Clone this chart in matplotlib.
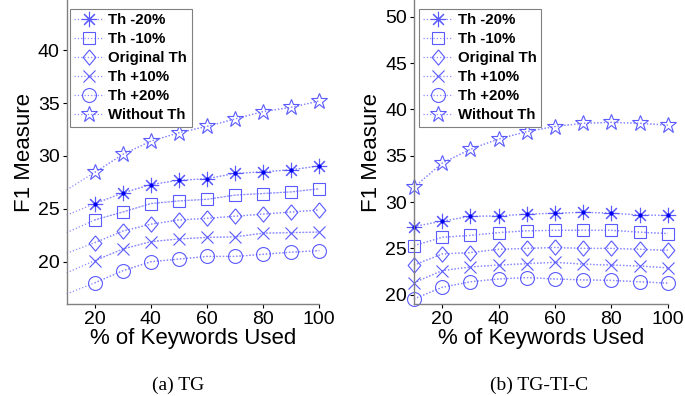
import matplotlib
matplotlib.use('Agg')
import matplotlib.pyplot as plt
import numpy as np

# % of keywords used
x_pct = [10, 20, 30, 40, 50, 60, 70, 80, 90, 100]
labels = ['Th -20%', 'Th -10%', 'Original Th', 'Th +10%', 'Th +20%', 'Without Th']

# (a) TG  -- value at 10 is the line start only (no marker drawn)
tg_m20 = [24.4, 25.5, 26.5, 27.3, 27.7, 27.85, 28.35, 28.5, 28.7, 29.05]
tg_m10 = [22.75, 23.95, 24.7, 25.5, 25.75, 25.9, 26.3, 26.45, 26.6, 26.9]
tg_orig = [20.8, 21.8, 22.9, 23.55, 23.95, 24.1, 24.3, 24.5, 24.7, 24.9]
tg_p10 = [18.95, 20.1, 21.2, 21.9, 22.15, 22.3, 22.35, 22.7, 22.75, 22.8]
tg_p20 = [16.95, 18.0, 19.15, 20.0, 20.25, 20.5, 20.5, 20.7, 20.9, 21.05]
tg_noth = [26.8, 28.45, 30.15, 31.4, 32.2, 32.8, 33.5, 34.2, 34.6, 35.2]

# (b) TG-TI-C
tc_m20 = [27.35, 27.95, 28.45, 28.5, 28.7, 28.8, 28.9, 28.8, 28.6, 28.55]
tc_m10 = [25.3, 26.2, 26.4, 26.7, 26.9, 26.95, 26.95, 26.95, 26.75, 26.6]
tc_orig = [23.2, 24.4, 24.55, 24.9, 25.0, 25.1, 25.0, 25.0, 24.9, 24.8]
tc_p10 = [21.3, 22.6, 23.0, 23.2, 23.35, 23.5, 23.3, 23.2, 23.1, 22.9]
tc_p20 = [19.55, 20.8, 21.4, 21.7, 21.85, 21.7, 21.6, 21.55, 21.4, 21.25]
tc_noth = [31.6, 34.2, 35.7, 36.8, 37.6, 38.15, 38.5, 38.6, 38.5, 38.3]

# matlab-ish diamond (a bit taller than wide)
diamond = [(0, 1), (0.83, 0), (0, -1), (-0.83, 0), (0, 1)]
markers = [(8, 2, 0), 's', diamond, 'x', 'o', '*']
msizes = [11, 9, 11, 8.5, 10, 12]
mcol = '#5a5aff'
lcol = '#8c8cff'

W, H = 685, 396
fig = plt.figure(figsize=(W / 100, H / 100), dpi=100)
sans = 'Liberation Sans'


def draw_panel(ax, series, first_marker, ylim, yticks, legend_xy):
    x = np.array(x_pct)
    for s, m, ms, lab in zip(series, markers, msizes, labels):
        s = np.array(s)
        # dotted line over full range
        ax.plot(x, s, ls=':', lw=0.9, color=lcol, clip_on=False)
        ax.plot(x[first_marker:], s[first_marker:], ls=':', lw=0.9, color=lcol,
                marker=m, ms=ms, mfc='none', mec=mcol,
                mew=0.8, label=lab, clip_on=False)
        if m == (8, 2, 0):
            ax.plot(x[first_marker:], s[first_marker:], ls='none', marker='.',
                    ms=4, color='#0000ee', clip_on=False)
    ax.set_xlim(10, 100)
    ax.set_ylim(*ylim)
    ax.set_xticks([20, 40, 60, 80, 100])
    ax.set_yticks(yticks)
    for sp in ['top', 'right']:
        ax.spines[sp].set_visible(False)
    for sp in ['left', 'bottom']:
        ax.spines[sp].set_color('#808080')
        ax.spines[sp].set_linewidth(1.0)
    ax.tick_params(direction='out', length=3, width=0.8, labelsize=14, pad=2)
    for t in ax.get_xticklabels() + ax.get_yticklabels():
        t.set_family(sans)
    ax.set_xlabel('% of Keywords Used', fontsize=16, family=sans, labelpad=0)
    ax.set_ylabel('F1 Measure', fontsize=16, family=sans, labelpad=2)
    leg = ax.legend(loc='upper left', bbox_to_anchor=legend_xy,
                    bbox_transform=fig.transFigure, fancybox=False,
                    prop={'family': sans, 'weight': 'bold', 'size': 10.8},
                    handlelength=2.0, handletextpad=0.3, labelspacing=0.33,
                    borderpad=0.3, borderaxespad=0, framealpha=1,
                    edgecolor='#808080')
    leg.get_frame().set_linewidth(0.8)


ax1 = fig.add_axes([66.7 / W, 1 - 304 / H, 252.6 / W, 304 / H])
draw_panel(ax1, [tg_m20, tg_m10, tg_orig, tg_p10, tg_p20, tg_noth], 1,
           (16, 44.75), [20, 25, 30, 35, 40], (69.5 / W, 1 - 9 / H))

ax2 = fig.add_axes([414 / W, 1 - 304 / H, 253.7 / W, 304 / H])
draw_panel(ax2, [tc_m20, tc_m10, tc_orig, tc_p10, tc_p20, tc_noth], 0,
           (19, 51.8), [20, 25, 30, 35, 40, 45, 50], (418.5 / W, 1 - 9 / H))

fig.text(178 / W, 1 - 385 / H, '(a) TG', ha='center', va='center',
         fontsize=14, family='Liberation Serif')
fig.text(539 / W, 1 - 385 / H, '(b) TG-TI-C', ha='center', va='center',
         fontsize=14, family='Liberation Serif')

fig.savefig('out.png', dpi=100)
